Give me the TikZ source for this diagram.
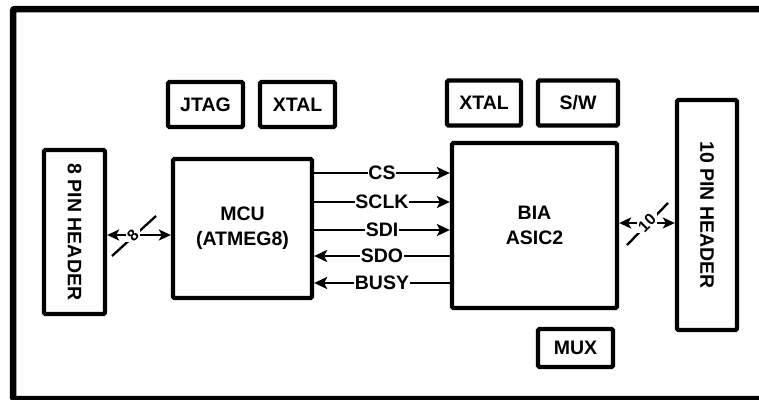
\documentclass[tikz,border=0pt]{standalone}
\usepackage{fontspec}
\setmainfont{Liberation Sans}
\usetikzlibrary{arrows.meta}
\begin{document}
\begin{tikzpicture}[x=1pt,y=-1pt,
  blk/.style={draw, line width=4.3pt, rounded corners=1.5pt, inner sep=0pt,
    align=center, font=\bfseries\fontsize{19.5}{25}\selectfont},
  sig/.style={line width=2.3pt},
  tip/.style={-{Stealth[length=13pt,width=12pt,inset=3pt]}},
  both/.style={{Stealth[length=12pt,width=11pt,inset=3pt]}-{Stealth[length=12pt,width=11pt,inset=3pt]}},
  lbl/.style={fill=white, inner sep=0.8pt, font=\bfseries\fontsize{19.5}{19.5}\selectfont},
  buslbl/.style={fill=white, inner sep=0pt, font=\bfseries\fontsize{16}{16}\selectfont}]

\useasboundingbox (0,0) rectangle (759,399);
\clip (0,0) rectangle (759,399);
\fill[white] (0,0) rectangle (759,399);

% outer frame (runs off the right and bottom edges)
\draw[line width=6.5pt, rounded corners=2pt] (13,9) rectangle (775,399);

% main blocks
\node[blk, minimum width=61pt, minimum height=164pt] (H8) at (74.5,232) {\rotatebox{-90}{8 PIN HEADER}};
\node[blk, minimum width=139pt, minimum height=139pt] (MCU) at (242.5,228.5) {MCU\\(ATMEG8)};
\node[blk, minimum width=165pt, minimum height=165pt] (BIA) at (534.5,225.5) {BIA\\ASIC2};
\node[blk, minimum width=60pt, minimum height=230pt] (H10) at (707,215) {\rotatebox{-90}{10 PIN HEADER}};

% small peripheral blocks
\node[blk, minimum width=75pt, minimum height=45pt] (JTAG) at (205.5,104.5) {JTAG};
\node[blk, minimum width=75pt, minimum height=45pt] (XT1) at (297.5,104.5) {XTAL};
\node[blk, minimum width=74pt, minimum height=45pt] (XT2) at (484,103) {XTAL};
\node[blk, minimum width=80pt, minimum height=45pt] (SW) at (578,103) {S/W};
\node[blk, minimum width=75pt, minimum height=38pt] (MUX) at (575.5,348) {MUX};

% SPI-style signals between MCU and ASIC
\draw[sig,tip] (MCU.east|-0,173) -- node[lbl] {CS} (BIA.west|-0,173);
\draw[sig,tip] (MCU.east|-0,202) -- node[lbl] {SCLK} (BIA.west|-0,202);
\draw[sig,tip] (MCU.east|-0,230) -- node[lbl] {SDI} (BIA.west|-0,230);
\draw[sig,tip] (BIA.west|-0,256) -- node[lbl] {SDO} (MCU.east|-0,256);
\draw[sig,tip] (BIA.west|-0,283) -- node[lbl] {BUSY} (MCU.east|-0,283);

% 8-bit bus to the 8 pin header
\coordinate (m8) at (133,235);
\draw[sig,both] (H8.east|-m8) -- (MCU.west|-m8);
\draw[sig] ([shift={(-21,21)}]m8) -- ([shift={(23,-19)}]m8);
\node[buslbl] (n8) at (m8) {\rotatebox{45}{8}};

% 10-bit bus to the 10 pin header
\coordinate (m10) at (647,223);
\draw[sig,both] (BIA.east|-m10) -- (H10.west|-m10);
\draw[sig] ([shift={(-20,22)}]m10) -- ([shift={(21,-20)}]m10);
\node[buslbl] (n10) at (m10) {\rotatebox{45}{10}};
\end{tikzpicture}
\end{document}
